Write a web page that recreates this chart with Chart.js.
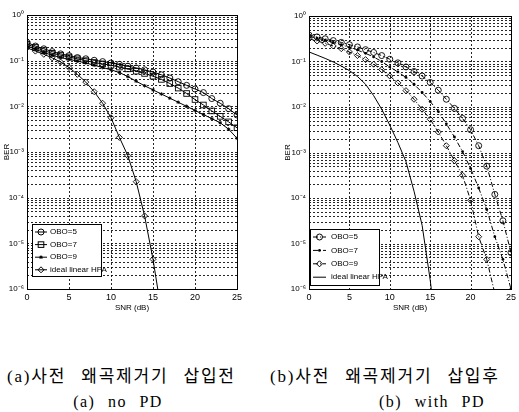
<!DOCTYPE html>
<html>
<head>
<meta charset="utf-8">
<script src="https://cdn.jsdelivr.net/npm/chart.js@4.4.1/dist/chart.umd.min.js"></script>
<style>
  html, body { margin:0; padding:0; background:#fff; width:519px; height:412px; overflow:hidden; }
  canvas { position:absolute; top:0; }
  .cap { position:absolute; white-space:nowrap; font-family:"Liberation Serif","Noto Sans CJK KR",serif; color:#000; }
  .c2 { width:200px; text-align:center; font-size:16px; letter-spacing:1.5px; word-spacing:7px; top:393px; }
</style>
</head>
<body>
<canvas id="cL" width="255" height="313" style="left:0px"></canvas>
<canvas id="cR" width="264" height="313" style="left:255px"></canvas>
<div class="cap" id="capL1" style="left:7px; top:362px; font-size:17px; letter-spacing:1.8px; word-spacing:9px;">(a)사전 왜곡제거기 삽입전</div>
<div class="cap c2" id="capL2" style="left:18px;">(a) no PD</div>
<div class="cap" id="capR1" style="left:270px; top:362px; font-size:17px; letter-spacing:1.8px; word-spacing:9px;">(b)사전 왜곡제거기 삽입후</div>
<div class="cap c2" id="capR2" style="left:332px;">(b) with PD</div>
<script>
// ---------- data ----------
const snr = [0,1,2,3,4,5,6,7,8,9,10,11,12,13,14,15,16,17,18,19,20,21,22,23,24,25];
const xTickValues = [0,5,10,15,20,25];
const yTickLabels = ['10⁻⁶','10⁻⁵','10⁻⁴','10⁻³','10⁻²','10⁻¹','10⁰'];
const seriesNames = ['OBO=5','OBO=7','OBO=9','ideal linear HPA'];

// (a) no PD
const noPdObo5 = [0.251,0.209,0.182,0.158,0.141,0.129,0.117,0.110,0.102,0.0955,0.0891,0.0832,0.0759,0.0692,0.0631,0.0562,0.049,0.0417,0.0347,0.0288,0.024,0.02,0.0148,0.0117,0.0089,0.00646];
const noPdObo7 = [0.229,0.195,0.166,0.145,0.132,0.120,0.110,0.1,0.0912,0.0851,0.0794,0.0724,0.0661,0.0589,0.0525,0.0457,0.0389,0.0316,0.0251,0.0191,0.0141,0.0107,0.00794,0.00603,0.00457,0.00339];
const noPdObo9 = [0.209,0.178,0.151,0.132,0.117,0.107,0.0977,0.0891,0.0794,0.0708,0.0631,0.055,0.0447,0.0355,0.0282,0.0229,0.0186,0.0151,0.0123,0.01,0.00813,0.00661,0.00537,0.00437,0.00316,0.002];
const noPdIdeal = [0.191,0.162,0.138,0.115,0.0933,0.0708,0.0501,0.0339,0.0209,0.0117,0.00562,0.00209,0.000832,0.000224,3.98e-5,4.47e-6,3.16e-7,null,null,null,null,null,null,null,null,null];

// (b) with PD
const pdObo5 = [0.38,0.347,0.316,0.288,0.263,0.234,0.209,0.182,0.158,0.135,0.112,0.0933,0.0759,0.0603,0.0479,0.0347,0.0234,0.0148,0.00933,0.00562,0.00316,0.00141,0.000501,0.00012,3.16e-5,6.31e-6];
const pdObo7 = [0.355,0.324,0.295,0.263,0.234,0.204,0.178,0.151,0.126,0.1,0.0759,0.0589,0.0447,0.0316,0.0209,0.0132,0.00794,0.00427,0.00219,0.00105,0.000447,0.000166,5.62e-5,1.41e-5,4.47e-6,1e-6];
const pdObo9 = [0.316,0.282,0.251,0.219,0.191,0.162,0.135,0.11,0.0871,0.0661,0.0479,0.0339,0.0229,0.0148,0.00891,0.00537,0.00282,0.00141,0.000661,0.000316,8.91e-5,1.41e-5,4.47e-6,7.94e-7,null,null];
const pdIdeal = [0.162,0.138,0.117,0.0977,0.0794,0.0631,0.0468,0.0316,0.0178,0.00891,0.00398,0.00166,0.000631,0.000141,2.51e-5,1.58e-6,5e-8,null,null,null,null,null,null,null,null,null];

// ---------- helpers ----------
const FONT = '"Liberation Sans Narrow","Liberation Sans",Arial,sans-serif';

function drawMarker(ctx, style, x, y, r) {
  ctx.beginPath();
  if (style === 'circle') { ctx.arc(x, y, r, 0, Math.PI*2); ctx.stroke(); }
  else if (style === 'rect') { ctx.strokeRect(x-r, y-r, 2*r, 2*r); }
  else if (style === 'rectRot') { ctx.moveTo(x, y-r); ctx.lineTo(x+r, y); ctx.lineTo(x, y+r); ctx.lineTo(x-r, y); ctx.closePath(); ctx.stroke(); }
  else if (style === 'star') {
    ctx.moveTo(x-r, y); ctx.lineTo(x+r, y); ctx.moveTo(x, y-r); ctx.lineTo(x, y+r);
    ctx.moveTo(x-r*0.7, y-r*0.7); ctx.lineTo(x+r*0.7, y+r*0.7); ctx.moveTo(x-r*0.7, y+r*0.7); ctx.lineTo(x+r*0.7, y-r*0.7); ctx.stroke();
  }
  else if (style === 'dot') { ctx.arc(x, y, r, 0, Math.PI*2); ctx.fill(); }
}

// dotted MATLAB-like grid drawn through the chart's own scales
const gridPlugin = {
  id: 'gridPlugin',
  beforeDatasetsDraw(chart) {
    const ctx = chart.ctx, a = chart.chartArea;
    const xs = chart.scales.x, ys = chart.scales.y;
    ctx.save();
    ctx.strokeStyle = 'rgba(0,0,0,0.85)';
    ctx.lineWidth = 1;
    ctx.setLineDash([2, 2]);
    ys.ticks.forEach(t => {
      const y = Math.round(ys.getPixelForValue(t.value)) + 0.5;
      if (y <= a.top + 1 || y >= a.bottom - 1) return;
      ctx.beginPath(); ctx.moveTo(a.left, y); ctx.lineTo(a.right, y); ctx.stroke();
    });
    xs.ticks.forEach(t => {
      const x = Math.round(xs.getPixelForValue(t.value)) + 0.5;
      if (x <= a.left + 1 || x >= a.right - 1) return;
      ctx.beginPath(); ctx.moveTo(x, a.top); ctx.lineTo(x, a.bottom); ctx.stroke();
    });
    ctx.restore();
  }
};

const boxPlugin = {
  id: 'boxPlugin',
  afterDraw(chart, args, opts) {
    const ctx = chart.ctx, a = chart.chartArea;
    ctx.save();
    ctx.strokeStyle = '#000'; ctx.lineWidth = 1;
    ctx.strokeRect(Math.round(a.left)+0.5, Math.round(a.top)+0.5, Math.round(a.right-a.left), Math.round(a.bottom-a.top));
    const L = opts.legend;
    if (L) {
      ctx.fillStyle = '#fff';
      ctx.fillRect(L.x, L.y, L.w, L.h);
      ctx.strokeRect(L.x+0.5, L.y+0.5, L.w, L.h);
      ctx.font = '8px ' + FONT;
      ctx.textBaseline = 'middle';
      L.items.forEach((it, i) => {
        const yy = L.y + L.first + i*L.step;
        ctx.strokeStyle = '#000'; ctx.fillStyle = '#000'; ctx.lineWidth = 1;
        ctx.setLineDash(it.dash || []);
        ctx.beginPath(); ctx.moveTo(L.x + L.sx0, yy); ctx.lineTo(L.x + L.sx1, yy); ctx.stroke();
        ctx.setLineDash([]);
        if (it.marker) drawMarker(ctx, it.marker, L.x + (L.sx0+L.sx1)/2, yy, it.r);
        ctx.fillText(it.label, L.x + L.tx, yy);
      });
    }
    ctx.restore();
  }
};

const markerPlugin = {
  id: 'markers',
  afterDatasetsDraw(chart) {
    const ctx = chart.ctx, a = chart.chartArea;
    ctx.save();
    ctx.beginPath(); ctx.rect(a.left, a.top, a.right-a.left, a.bottom-a.top); ctx.clip();
    chart.data.datasets.forEach((ds, di) => {
      if (!ds.marker) return;
      const meta = chart.getDatasetMeta(di);
      ctx.strokeStyle = '#000'; ctx.fillStyle = '#000'; ctx.lineWidth = 0.9; ctx.setLineDash([]);
      meta.data.forEach((pt, i) => {
        if (ds.data[i] == null) return;
        drawMarker(ctx, ds.marker, pt.x, pt.y, ds.mr);
      });
    });
    ctx.restore();
  }
};

function logTicks() {
  const t = [];
  for (let e = -6; e <= 0; e++) {
    for (let m = 1; m <= 9; m++) {
      const v = m * Math.pow(10, e);
      if (v <= 1.0000001) t.push({ value: v });
    }
  }
  return t;
}

function makeChart(id, datasets, geom, legend) {
  const ctx = document.getElementById(id);
  return new Chart(ctx, {
    type: 'line',
    data: { labels: snr, datasets },
    options: {
      responsive: false,
      animation: false,
      devicePixelRatio: 1,
      layout: { padding: { left: geom.padL, top: geom.top, right: geom.padR, bottom: 0 } },
      plugins: { legend: { display: false }, tooltip: { enabled: false }, boxPlugin: { legend } },
      elements: { point: { radius: 0 }, line: { tension: 0 } },
      scales: {
        x: {
          type: 'linear', min: 0, max: 25,
          afterBuildTicks: s => { s.ticks = xTickValues.map(v => ({ value: v })); },
          ticks: { color: '#000', font: { family: FONT, size: 9 }, padding: 3, maxRotation: 0 },
          grid: { drawOnChartArea: false, drawTicks: false },
          border: { display: true, color: '#000' },
          title: { display: true, text: 'SNR (dB)', color: '#000', font: { family: FONT, size: 8 }, padding: { top: 1, bottom: 0 } },
          afterFit: s => { s.height = geom.xh; }
        },
        y: {
          type: 'logarithmic', min: 1e-6, max: 1,
          afterBuildTicks: s => { s.ticks = logTicks(); },
          ticks: {
            color: '#000', font: { family: FONT, size: 8 }, padding: 3, autoSkip: false,
            callback: v => {
              const e = Math.log10(v);
              if (Math.abs(e - Math.round(e)) < 1e-6) return yTickLabels[Math.round(e) + 6];
              return '';
            }
          },
          grid: { drawOnChartArea: false, drawTicks: false },
          border: { display: true, color: '#000' },
          title: { display: true, text: 'BER', color: '#000', font: { family: FONT, size: 8 }, padding: { top: 2, bottom: 0 } },
          afterFit: s => { s.width = geom.yw; }
        }
      }
    },
    plugins: [gridPlugin, markerPlugin, boxPlugin]
  });
}

function ds(label, data, marker, mr, dash) {
  return { label, data, borderColor: '#000', borderWidth: 1, borderDash: dash || [], pointRadius: 0, fill: false, clip: 0, spanGaps: false, marker, mr };
}

const dashDot = [5,2,1,2];

makeChart('cL', [
  ds(seriesNames[0], noPdObo5, 'circle', 3),
  ds(seriesNames[1], noPdObo7, 'rect', 2.8),
  ds(seriesNames[2], noPdObo9, 'star', 1.8),
  ds(seriesNames[3], noPdIdeal, 'rectRot', 3)
], { padL: 0, top: 15, padR: 18, yw: 27, xh: 24 }, {
  x: 32, y: 224, w: 69, h: 52, first: 8, step: 12.6, sx0: 3, sx1: 15, tx: 18,
  items: [
    { label: seriesNames[0], marker: 'circle', r: 3 },
    { label: seriesNames[1], marker: 'rect', r: 2.8 },
    { label: seriesNames[2], marker: 'star', r: 1.8 },
    { label: 'ideal linear HPA', marker: 'rectRot', r: 3 }
  ]
});

makeChart('cR', [
  ds(seriesNames[0], pdObo5, 'circle', 3, dashDot),
  ds(seriesNames[1], pdObo7, 'dot', 1.4, dashDot),
  ds(seriesNames[2], pdObo9, 'rectRot', 3, dashDot),
  ds(seriesNames[3], pdIdeal, null, 0)
], { padL: 26, top: 16, padR: 1, yw: 28, xh: 24 }, {
  x: 55, y: 229, w: 69, h: 56, first: 8, step: 13.4, sx0: 3, sx1: 16, tx: 21,
  items: [
    { label: seriesNames[0], marker: 'circle', r: 3, dash: dashDot },
    { label: seriesNames[1], marker: 'dot', r: 1.4, dash: dashDot },
    { label: seriesNames[2], marker: 'rectRot', r: 3, dash: dashDot },
    { label: 'ideal linear HPA', marker: null }
  ]
});
</script>
</body>
</html>
